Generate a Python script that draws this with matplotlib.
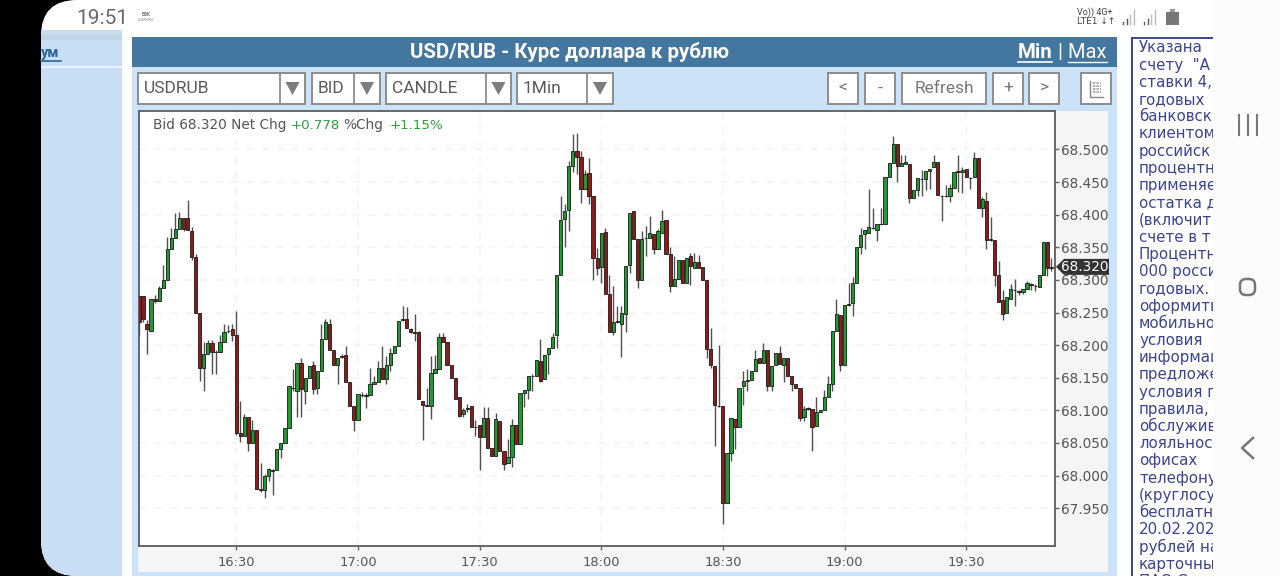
import numpy as np
import matplotlib
matplotlib.use('Agg')
import matplotlib.pyplot as plt
from matplotlib.patches import Rectangle, FancyBboxPatch, Polygon

# one minute candles, first one is 16:06, last one 19:51
opens = [68.275, 68.275, 68.232, 68.222, 68.27, 68.268, 68.287, 68.30, 68.348, 68.364, 68.378, 68.395,
         68.395, 68.375, 68.335, 68.25, 68.165, 68.187, 68.203, 68.19, 68.19, 68.205, 68.222, 68.225,
         68.215, 68.065, 68.06, 68.09, 68.05, 68.07, 67.98, 67.978, 68.0, 68.008, 68.008, 68.04,
         68.05, 68.073, 68.135, 68.13, 68.172, 68.13, 68.15, 68.17, 68.135, 68.16, 68.21, 68.233,
         68.193, 68.17, 68.183, 68.185, 68.143, 68.106, 68.085, 68.124, 68.123, 68.124, 68.14, 68.143,
         68.165, 68.148, 68.17, 68.188, 68.198, 68.24, 68.24, 68.224, 68.22, 68.22, 68.115, 68.108,
         68.106, 68.158, 68.163, 68.212, 68.205, 68.17, 68.15, 68.12, 68.094, 68.103, 68.106, 68.075,
         68.077, 68.059, 68.089, 68.043, 68.03, 68.084, 68.037, 68.019, 68.029, 68.077, 68.048, 68.127,
         68.131, 68.153, 68.153, 68.175, 68.148, 68.186, 68.196, 68.215, 68.307, 68.393, 68.407, 68.475,
         68.498, 68.488, 68.44, 68.464, 68.429, 68.334, 68.32, 68.373, 68.278, 68.22, 68.237, 68.232,
         68.248, 68.323, 68.405, 68.363, 68.30, 68.365, 68.365, 68.37, 68.348, 68.372, 68.392, 68.34,
         68.29, 68.302, 68.331, 68.296, 68.337, 68.319, 68.328, 68.32, 68.30, 68.194, 68.168, 68.107,
         68.106, 67.958, 68.035, 68.087, 68.075, 68.138, 68.146, 68.147, 68.16, 68.18, 68.173, 68.192,
         68.137, 68.169, 68.188, 68.17, 68.18, 68.152, 68.141, 68.135, 68.09, 68.103, 68.102, 68.076,
         68.097, 68.1, 68.12, 68.141, 68.222, 68.246, 68.17, 68.263, 68.265, 68.295, 68.35, 68.37,
         68.372, 68.38, 68.377, 68.386, 68.385, 68.458, 68.48, 68.509, 68.475, 68.477, 68.478, 68.425,
         68.438, 68.455, 68.455, 68.467, 68.473, 68.481, 68.429, 68.429, 68.429, 68.441, 68.467, 68.465,
         68.47, 68.457, 68.458, 68.487, 68.411, 68.421, 68.362, 68.361, 68.308, 68.269, 68.249, 68.271,
         68.285, 68.283, 68.281, 68.286, 68.293, 68.291, 68.289, 68.308, 68.358, 68.319]
closes = [68.235, 68.24, 68.225, 68.27, 68.268, 68.287, 68.30, 68.348, 68.364, 68.378, 68.395, 68.378,
          68.376, 68.335, 68.25, 68.165, 68.187, 68.203, 68.19, 68.189, 68.205, 68.22, 68.221, 68.215,
          68.065, 68.06, 68.09, 68.05, 68.07, 67.98, 67.978, 68.0, 68.01, 68.007, 68.04, 68.05,
          68.073, 68.138, 68.134, 68.172, 68.132, 68.15, 68.168, 68.133, 68.16, 68.21, 68.235, 68.193,
          68.17, 68.18, 68.182, 68.143, 68.106, 68.085, 68.125, 68.123, 68.122, 68.14, 68.143, 68.165,
          68.148, 68.17, 68.188, 68.198, 68.237, 68.239, 68.226, 68.22, 68.219, 68.118, 68.108, 68.106,
          68.158, 68.163, 68.212, 68.205, 68.17, 68.15, 68.117, 68.092, 68.10, 68.102, 68.074, 68.074,
          68.059, 68.089, 68.043, 68.03, 68.086, 68.037, 68.018, 68.028, 68.077, 68.048, 68.127, 68.131,
          68.152, 68.152, 68.177, 68.145, 68.185, 68.195, 68.212, 68.307, 68.392, 68.405, 68.475, 68.497,
          68.488, 68.44, 68.463, 68.428, 68.334, 68.318, 68.372, 68.278, 68.22, 68.236, 68.236, 68.25,
          68.322, 68.403, 68.362, 68.30, 68.362, 68.364, 68.372, 68.348, 68.375, 68.391, 68.34, 68.29,
          68.302, 68.33, 68.295, 68.334, 68.322, 68.328, 68.318, 68.30, 68.194, 68.17, 68.108, 68.106,
          67.958, 68.035, 68.089, 68.075, 68.135, 68.145, 68.145, 68.16, 68.178, 68.173, 68.192, 68.137,
          68.168, 68.188, 68.171, 68.18, 68.152, 68.141, 68.135, 68.088, 68.102, 68.102, 68.075, 68.097,
          68.1, 68.12, 68.141, 68.222, 68.247, 68.17, 68.262, 68.262, 68.295, 68.35, 68.369, 68.377,
          68.381, 68.379, 68.386, 68.385, 68.458, 68.48, 68.509, 68.475, 68.48, 68.481, 68.425, 68.438,
          68.456, 68.454, 68.467, 68.47, 68.481, 68.43, 68.428, 68.428, 68.441, 68.466, 68.466, 68.468,
          68.458, 68.456, 68.487, 68.41, 68.424, 68.361, 68.361, 68.307, 68.266, 68.247, 68.274, 68.286,
          68.284, 68.282, 68.286, 68.295, 68.292, 68.29, 68.308, 68.358, 68.319, 68.32]
highs = [68.275, 68.275, 68.238, 68.27, 68.277, 68.291, 68.323, 68.366, 68.38, 68.403, 68.404, 68.395,
         68.422, 68.381, 68.339, 68.25, 68.205, 68.208, 68.208, 68.193, 68.216, 68.233, 68.231, 68.232,
         68.253, 68.115, 68.095, 68.09, 68.085, 68.07, 68.02, 68.002, 68.012, 68.01, 68.04, 68.05,
         68.073, 68.138, 68.163, 68.172, 68.18, 68.15, 68.168, 68.176, 68.16, 68.233, 68.24, 68.24,
         68.193, 68.18, 68.187, 68.198, 68.143, 68.106, 68.125, 68.128, 68.126, 68.165, 68.153, 68.176,
         68.198, 68.183, 68.195, 68.198, 68.237, 68.26, 68.258, 68.227, 68.248, 68.222, 68.115, 68.135,
         68.183, 68.185, 68.218, 68.218, 68.205, 68.17, 68.15, 68.12, 68.104, 68.11, 68.106, 68.085,
         68.077, 68.105, 68.105, 68.043, 68.096, 68.084, 68.037, 68.056, 68.087, 68.077, 68.127, 68.131,
         68.152, 68.155, 68.177, 68.21, 68.185, 68.195, 68.218, 68.307, 68.429, 68.417, 68.482, 68.523,
         68.525, 68.498, 68.468, 68.487, 68.429, 68.349, 68.372, 68.379, 68.307, 68.29, 68.26, 68.26,
         68.322, 68.403, 68.405, 68.363, 68.375, 68.382, 68.398, 68.37, 68.378, 68.407, 68.392, 68.35,
         68.337, 68.33, 68.331, 68.334, 68.342, 68.342, 68.338, 68.32, 68.30, 68.226, 68.168, 68.20,
         68.106, 68.035, 68.089, 68.087, 68.135, 68.16, 68.163, 68.16, 68.192, 68.18, 68.203, 68.192,
         68.168, 68.188, 68.198, 68.18, 68.18, 68.152, 68.141, 68.135, 68.106, 68.105, 68.102, 68.12,
         68.1, 68.131, 68.153, 68.222, 68.27, 68.246, 68.262, 68.296, 68.304, 68.35, 68.379, 68.377,
         68.44, 68.41, 68.386, 68.41, 68.458, 68.48, 68.52, 68.509, 68.491, 68.491, 68.478, 68.438,
         68.456, 68.469, 68.467, 68.47, 68.491, 68.481, 68.43, 68.445, 68.447, 68.466, 68.491, 68.473,
         68.47, 68.458, 68.496, 68.487, 68.427, 68.435, 68.396, 68.361, 68.329, 68.285, 68.274, 68.294,
         68.301, 68.285, 68.286, 68.298, 68.295, 68.293, 68.308, 68.358, 68.358, 68.333]
lows = [68.215, 68.235, 68.187, 68.222, 68.265, 68.268, 68.287, 68.30, 68.348, 68.364, 68.378, 68.375,
        68.376, 68.33, 68.25, 68.145, 68.13, 68.187, 68.155, 68.155, 68.19, 68.205, 68.219, 68.207,
        68.062, 68.052, 68.06, 68.038, 68.05, 67.98, 67.975, 67.965, 67.992, 67.97, 68.008, 68.027,
        68.05, 68.073, 68.13, 68.09, 68.09, 68.11, 68.15, 68.125, 68.125, 68.16, 68.21, 68.193,
        68.17, 68.14, 68.18, 68.143, 68.106, 68.068, 68.085, 68.12, 68.104, 68.124, 68.14, 68.143,
        68.148, 68.14, 68.16, 68.188, 68.198, 68.237, 68.226, 68.219, 68.207, 68.118, 68.055, 68.106,
        68.086, 68.158, 68.163, 68.205, 68.17, 68.15, 68.117, 68.09, 68.09, 68.098, 68.074, 68.06,
        68.009, 68.059, 68.043, 68.03, 68.03, 68.037, 68.009, 68.019, 68.013, 68.048, 68.048, 68.105,
        68.118, 68.13, 68.153, 68.143, 68.148, 68.155, 68.196, 68.196, 68.307, 68.35, 68.375, 68.465,
        68.462, 68.418, 68.44, 68.416, 68.30, 68.308, 68.296, 68.278, 68.22, 68.216, 68.234, 68.182,
        68.22, 68.31, 68.362, 68.287, 68.30, 68.337, 68.365, 68.34, 68.348, 68.372, 68.34, 68.282,
        68.29, 68.302, 68.295, 68.296, 68.292, 68.319, 68.318, 68.30, 68.18, 68.165, 68.045, 68.105,
        67.926, 67.958, 68.023, 68.04, 68.075, 68.108, 68.13, 68.147, 68.16, 68.173, 68.173, 68.13,
        68.13, 68.169, 68.171, 68.144, 68.152, 68.13, 68.135, 68.083, 68.084, 68.10, 68.037, 68.076,
        68.097, 68.1, 68.12, 68.13, 68.222, 68.16, 68.17, 68.26, 68.245, 68.295, 68.339, 68.347,
        68.372, 68.378, 68.359, 68.384, 68.385, 68.458, 68.48, 68.45, 68.475, 68.477, 68.418, 68.425,
        68.428, 68.429, 68.438, 68.44, 68.473, 68.43, 68.391, 68.427, 68.42, 68.441, 68.435, 68.434,
        68.458, 68.44, 68.458, 68.41, 68.397, 68.347, 68.36, 68.29, 68.266, 68.238, 68.249, 68.271,
        68.26, 68.277, 68.279, 68.286, 68.285, 68.283, 68.289, 68.308, 68.306, 68.314]
first_minute = -24  # minutes from 16:30

time_ticks = [0, 30, 60, 90, 120, 150, 180]
time_labels = ['16:30', '17:00', '17:30', '18:00', '18:30', '19:00', '19:30']
price_ticks = [67.95, 68.0, 68.05, 68.1, 68.15, 68.2, 68.25, 68.3, 68.35, 68.4, 68.45, 68.5]
last_price = 68.32

side_lines = ['Указана', 'счету  "А', 'ставки 4,', 'годовых', 'банковск', 'клиентом', 'российск',
              'процентн', 'применяе', 'остатка д', '(включит', 'счете в т', 'Процентн', '000 росси',
              'годовых.', 'оформить', 'мобильно', 'условия', 'информац', 'предложе', 'условия г',
              'правила,', 'обслужив', 'лояльнос', 'офисах', 'телефону', '(круглосу', 'бесплатн',
              '20.02.202', 'рублей на', 'карточны', 'ПАО Са']

GREEN = '#1f9a30'
RED = '#8f1a1a'
LIGHT = '#cce2f8'
HEADER = '#44779f'
GREY = '#5a5a5a'

fig = plt.figure(figsize=(12.8, 5.76), dpi=100, facecolor='black')

# screen around the chart, in pixels
bg = fig.add_axes([0, 0, 1, 1])
bg.set_xlim(0, 1280)
bg.set_ylim(576, 0)
bg.axis('off')


def box(x0, y0, x1, y1, color, z=1, edge='none', lw=0):
    return bg.add_patch(Rectangle((x0, y0), x1 - x0, y1 - y0, facecolor=color, edgecolor=edge, linewidth=lw, zorder=z))


def label(x, y, s, size=12.5, color=GREY, ha='left', weight='normal', family='Roboto', z=6):
    return bg.text(x, y, s, fontsize=size, color=color, ha=ha, va='center', fontweight=weight, family=family, zorder=z)


screen = bg.add_patch(FancyBboxPatch((41, 0), 1300, 576, boxstyle='round,pad=0,rounding_size=36',
                                     facecolor='white', edgecolor='none', zorder=0))
left_col = box(41, 30, 122, 576, '#c9def4')
left_col.set_clip_path(screen)
box(41, 34, 122, 40, '#c3d6e6', 2)
box(41, 66, 122, 68, '#e8f2fc', 2)
label(41, 53, 'ум', 10.5, '#2a6496', weight='bold')
bg.plot([41, 61], [61, 61], color='#2a6496', lw=1.2, zorder=3)

label(76, 18, '19:51', 15, '#6a6a6a')
label(146, 15, 'BBK', 3.5, '#777777', ha='center', weight='bold')
label(146, 20, 'LEARNING', 2.5, '#888888', ha='center')
label(1077, 12, 'Vo)) 4G+', 6.5, '#444444')
label(1077, 21, 'LTE1 ↓↑', 6.5, '#444444', family='DejaVu Sans')
for x0 in [1123, 1144]:
    for i, h in enumerate([2, 5, 9, 14]):
        bg.plot([x0 + i * 3.5] * 2, [24, 24 - h], color='#555555' if i < 2 else '#bbbbbb', lw=1, zorder=3)
box(1166, 12, 1179, 25, '#777777', 3)
box(1170, 9, 1175, 12, '#999999', 3)

# blue block
box(132, 37, 1117, 576, LIGHT)
box(132, 37, 1117, 67, HEADER, 2)
label(569, 52, 'USD/RUB - Курс доллара к рублю', 14.7, 'white', ha='center', weight='bold')
label(1018, 52, 'Min', 14.7, 'white', weight='bold')
label(1058, 52, '| Max', 14.5, 'white')
bg.plot([1018, 1052], [62, 62], color='white', lw=1.2, zorder=6)
bg.plot([1068, 1107], [62, 62], color='white', lw=1, zorder=6)

for x0, x1, div, s in [(138, 305, 280, 'USDRUB'), (312, 380, 354, 'BID'),
                       (386, 511, 486, 'CANDLE'), (517, 613, 587, '1Min')]:
    box(x0, 73, x1, 104, 'white', 3, '#8c8c8c', 1.4)
    bg.plot([div, div], [73, 104], color='#8c8c8c', lw=1.3, zorder=4)
    mid = (div + x1) / 2
    bg.add_patch(Polygon([(mid - 7, 82), (mid + 7, 82), (mid, 95)], facecolor='#7d7d7d', zorder=4))
    label(x0 + 6, 88.5, s)
for x0, x1, s in [(828, 858, '<'), (865, 895, '-'), (902, 986, 'Refresh'), (993, 1023, '+'), (1029, 1059, '>')]:
    box(x0, 73, x1, 104, 'white', 3, '#8c8c8c', 1.4)
    label((x0 + x1) / 2, 88.5, s, color='#777777', ha='center')
box(1081, 73, 1111, 104, 'white', 3, '#8c8c8c', 1.4)
bg.plot([1090, 1090, 1103], [81, 97, 97], color='#888888', lw=1, zorder=4)
for yy in [83, 86, 89, 92]:
    bg.plot([1093, 1101], [yy, yy], color='#aaaaaa', lw=1.4, ls=(0, (1.2, 0.6)), zorder=4)

box(138, 111, 1108, 572, '#f3f5f6', 2)

# text box on the right
box(1132, 38, 1240, 580, 'white', 1, '#3c4490', 1.4)
for i, s in enumerate(side_lines):
    label(1139, 48 + i * 17.2, s, 10.8, '#3c4490', family='DejaVu Sans', z=2)
box(1213, 0, 1280, 576, '#fcfcfc', 3)
for x in [1238.5, 1247.5, 1256.5]:
    bg.plot([x, x], [115, 135], color='#777777', lw=1.5, zorder=4)
bg.add_patch(FancyBboxPatch((1240, 279), 15, 16, boxstyle='round,pad=0,rounding_size=6',
                            facecolor='none', edgecolor='#777777', linewidth=1.8, zorder=4))
bg.plot([1253, 1242, 1253], [438, 448, 458], color='#777777', lw=1.8, zorder=4)

# the chart itself
ax = fig.add_axes([138.5 / 1280, 1 - 546 / 576, (1055 - 138.5) / 1280, 435 / 576], zorder=5)
ax.set_facecolor('white')
minutes = np.arange(first_minute, first_minute + len(opens))
o = np.array(opens)
c = np.array(closes)
up = c >= o
ax.vlines(minutes, lows, highs, color='#505050', linewidth=1, zorder=3)
ax.bar(minutes, np.abs(c - o), bottom=np.minimum(o, c), width=0.8,
       color=np.where(up, GREEN, RED), edgecolor='#1a1a1a', linewidth=0.6, zorder=4)
ax.set_xlim(-24.1, 201.9)
ax.set_ylim(67.892, 68.559)
ax.set_xticks(time_ticks)
ax.set_xticklabels(time_labels)
ax.set_yticks(price_ticks)
ax.set_yticklabels(['%.3f' % p for p in price_ticks])
ax.yaxis.tick_right()
ax.tick_params(axis='both', colors='#666666', labelsize=9.8, length=3, width=1, labelcolor='#555555', pad=1.5)
ax.tick_params(axis='x', pad=4, labelsize=9.4)
ax.grid(True, color='#f3f3f3', linewidth=1.1, linestyle=(0, (5, 5)), zorder=0)
for s in ax.spines.values():
    s.set_color('#5c5c5c')
    s.set_linewidth(1.3)

ax.text(0.0155, 0.9675, 'Bid 68.320 Net Chg', transform=ax.transAxes, fontsize=9.8, color='#555555', va='center')
ax.text(0.1665, 0.9675, '+0.778', transform=ax.transAxes, fontsize=9.6, color='#2e9e3a', va='center')
ax.text(0.2235, 0.9675, '%Chg', transform=ax.transAxes, fontsize=9.8, color='#555555', va='center')
ax.text(0.274, 0.9675, '+1.15%', transform=ax.transAxes, fontsize=9.6, color='#2e9e3a', va='center')

# last price tag sits over the tick labels
tag_y = bg.transData.inverted().transform(ax.transData.transform((0, last_price)))[1]
tag = fig.add_axes([0, 0, 1, 1], zorder=6)
tag.set_xlim(0, 1280)
tag.set_ylim(576, 0)
tag.axis('off')
tag.add_patch(Polygon([(1056, tag_y), (1064, tag_y - 8), (1109, tag_y - 8), (1109, tag_y + 8), (1064, tag_y + 8)],
                      facecolor='#333333', edgecolor='none'))
tag.text(1085, tag_y, '%.3f' % last_price, color='white', fontsize=9.8, ha='center', va='center')

fig.savefig('out.png', dpi=100, facecolor='black')
